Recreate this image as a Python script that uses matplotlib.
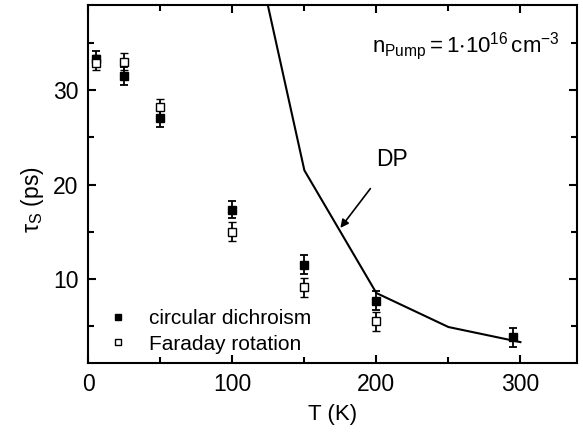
import matplotlib
matplotlib.use("Agg")
import matplotlib.pyplot as plt
from matplotlib.ticker import MultipleLocator
from matplotlib.lines import Line2D

plt.rcParams['font.family'] = ['Liberation Sans', 'DejaVu Sans']
plt.rcParams['mathtext.fontset'] = 'custom'
plt.rcParams['mathtext.rm'] = 'Liberation Sans'
plt.rcParams['mathtext.it'] = 'Liberation Sans'
plt.rcParams['mathtext.bf'] = 'Liberation Sans:bold'

# Data
T_cd = [5, 25, 50, 100, 150, 200, 295]
tau_cd = [33.3, 31.5, 27.0, 17.3, 11.5, 7.7, 3.8]
err_cd = [0.8, 1.0, 0.9, 0.9, 1.0, 1.0, 1.0]

T_fr = [5, 25, 50, 100, 150, 200]
tau_fr = [32.9, 33.0, 28.2, 15.0, 9.1, 5.5]
err_fr = [0.8, 0.9, 0.9, 1.0, 1.0, 1.0]

T_dp = [100, 150, 200, 250, 300]
tau_dp = [56.0, 21.5, 8.5, 4.9, 3.3]

fig = plt.figure(figsize=(5.83, 4.32), dpi=100)
ax = fig.add_axes([0.1515, 0.160, 0.8375, 0.828])

ax.plot(T_dp, tau_dp, color='black', lw=1.5, zorder=1)

ax.errorbar(T_cd, tau_cd, yerr=err_cd, fmt='s', color='black', mfc='black', mec='black',
            ms=5.5, capsize=3, elinewidth=1.3, capthick=1.3, zorder=3)
ax.errorbar(T_fr, tau_fr, yerr=err_fr, fmt='s', color='black', mfc='white', mec='black',
            ms=5.5, capsize=3, elinewidth=1.3, capthick=1.3, mew=1.0, zorder=3)

ax.set_xlim(0, 339)
ax.set_ylim(1.1, 39)
ax.xaxis.set_major_locator(MultipleLocator(100))
ax.xaxis.set_minor_locator(MultipleLocator(50))
ax.yaxis.set_major_locator(MultipleLocator(10))
ax.yaxis.set_minor_locator(MultipleLocator(5))
ax.tick_params(which='both', direction='in', top=True, right=True, width=1.5, labelsize=16.5)
ax.tick_params(which='major', length=6, pad=7)
ax.tick_params(which='minor', length=4)
for s in ax.spines.values():
    s.set_linewidth(1.5)

ax.set_xlabel('T (K)', fontsize=16, labelpad=6)
ax.set_ylabel(r'$\tau_{\mathregular{S}}$ (ps)', fontsize=16.5)
ax.yaxis.set_label_coords(-0.087, 0.455)

ax.text(0.965, 0.885, r'$\mathregular{n_{Pump}= 1{\cdot}10^{16}\,cm^{-3}}$', transform=ax.transAxes,
        ha='right', va='center', fontsize=16)

ax.annotate('DP', xy=(175, 15.4), xytext=(211, 22.6), fontsize=16.5, ha='center', va='center',
            arrowprops=dict(arrowstyle='-|>', color='black', lw=1.2, mutation_scale=12,
                            shrinkA=13, shrinkB=0))

handles = [Line2D([], [], ls='none', marker='s', ms=5, mfc='black', mec='black'),
           Line2D([], [], ls='none', marker='s', ms=5, mfc='white', mec='black', mew=1.0)]
ax.legend(handles, ['circular dichroism', 'Faraday rotation'], loc='lower left',
          bbox_to_anchor=(0.018, -0.015), frameon=False, fontsize=15,
          handlelength=0.6, handletextpad=1.2, labelspacing=0.3, borderaxespad=0.3)

fig.savefig('out.png', dpi=100)
